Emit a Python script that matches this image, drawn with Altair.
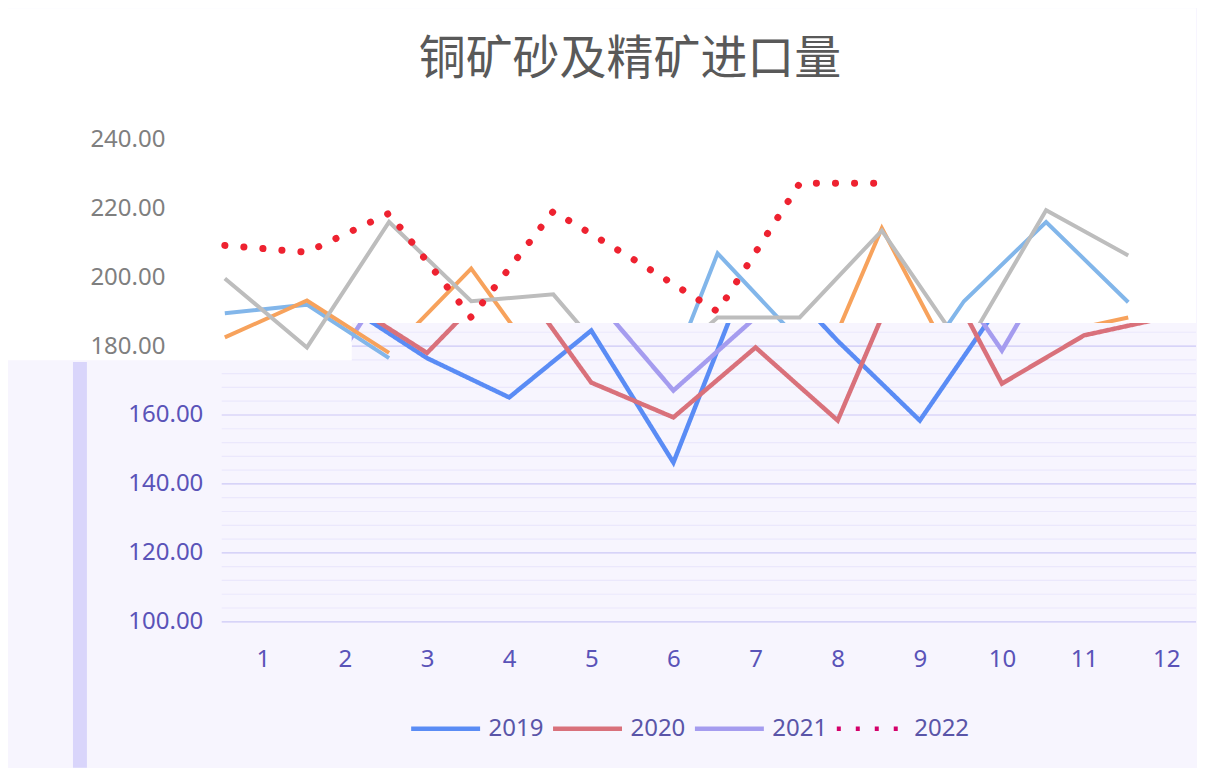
import altair as alt
import pandas as pd

# ---------------- data ----------------
MONTHS = [1, 2, 3, 4, 5, 6, 7, 8, 9, 10, 11, 12]
YEARS = ["2019", "2020", "2021", "2022"]
S2019 = [189.5, 192.0, 176.5, 165.1, 184.5, 146.2, 206.9, 181.5, 158.4, 193.0, 216.0, 192.7]
S2020 = [182.5, 193.2, 178.0, 202.5, 169.4, 159.3, 179.6, 158.4, 214.2, 169.1, 183.1, 188.3]
S2021 = [199.6, 179.6, 216.0, 193.0, 195.0, 167.1, 188.3, 188.3, 213.5, 178.7, 219.4, 206.3]
S2022 = [209.2, 207.2, 218.5, 188.3, 219.1, 204.8, 190.0, 227.2, 227.2, None, None, None]
TITLE = "铜矿砂及精矿进口量"
Y_TICKS_UPPER = [200, 220, 240]
Y_TICKS_LOWER = [100, 120, 140, 160]
Y_TICK_SPLIT = [180]
GRID_MAJOR = [100, 120, 140, 160, 180]
GRID_MINOR = [104, 108, 112, 116, 124, 128, 132, 136, 144, 148, 152, 156,
              164, 168, 172, 176, 184]

# ---------------- styles ----------------
DARK = ["#5a8cf5", "#d9717b", "#a59cef", "#d4006a"]
LIGHT = ["#82b6ea", "#f7a25c", "#bdbdbd", "#ee2230"]
LAVENDER = "#f7f5fe"
STRIP = "#d9d5fb"
GRID_MAJOR_C = "#cdc8f6"
GRID_MINOR_C = "#ebe8fc"
PURPLE = "#5a53b8"
LEGEND_C = "#5a55a8"
GRAY = "#7f7f7f"
FONT = "Noto Sans"

# ---------------- layout ----------------
W = 1189
H_TOP = 315
H_BOT = 445
X_DOM = [-2.102, 12.363]
Y_SPLIT = 186.67
Y_TOP_DOM = [Y_SPLIT, 277.97]
Y_BOT_DOM = [57.68, Y_SPLIT]
SHIFT = -0.462
ZONE_X = 2.083
ZONE_Y = 175.9
STRIP_X = [-1.311, -1.141]
STRIP_TOP = 175.4
PLOT_X0 = 0.5

rows = []
for yr, vals in zip(YEARS, [S2019, S2020, S2021, S2022]):
    for m, v in zip(MONTHS, vals):
        if v is not None:
            rows.append({"year": yr, "month": m, "value": v})
df = pd.DataFrame(rows)
grid_df = pd.DataFrame({"v": GRID_MAJOR + GRID_MINOR,
                        "kind": ["major"] * len(GRID_MAJOR) + ["minor"] * len(GRID_MINOR)})
one = pd.DataFrame({"k": [0]})

xs = alt.Scale(domain=X_DOM, nice=False, zero=False)
ys_top = alt.Scale(domain=Y_TOP_DOM, nice=False, zero=False)
ys_bot = alt.Scale(domain=Y_BOT_DOM, nice=False, zero=False)
stroke_sc = alt.Scale(domain=YEARS, range=LIGHT)
color_sc = alt.Scale(domain=YEARS, range=DARK)
dash_sc = alt.Scale(domain=YEARS, range=[[1, 0], [1, 0], [1, 0], [4, 15]])

# ---------------- top panel ----------------
axis_top = alt.Axis(values=Y_TICKS_UPPER, format=".2f", orient="left", offset=-162,
                    labelPadding=5, tickSize=0, ticks=False, domain=False, grid=False,
                    labelColor=GRAY, labelFont=FONT, labelFontSize=24, title=None, zindex=1)

light = alt.Chart(df).transform_calculate(mx=f"datum.month + ({SHIFT})")

top_solid = light.transform_filter("datum.year != '2022'").mark_line(
    strokeWidth=4, clip=True).encode(
    x=alt.X("mx:Q", scale=xs, axis=None),
    y=alt.Y("value:Q", scale=ys_top, axis=axis_top),
    stroke=alt.Stroke("year:N", scale=stroke_sc, legend=None))
top_dot = light.transform_filter("datum.year == '2022'").mark_line(
    strokeWidth=7, strokeDash=[0.1, 19], strokeCap="round", clip=True).encode(
    x=alt.X("mx:Q", scale=xs, axis=None),
    y=alt.Y("value:Q", scale=ys_top, axis=None),
    stroke=alt.Stroke("year:N", scale=stroke_sc, legend=None))

top = alt.layer(top_solid, top_dot).resolve_axis(x="independent", y="independent").properties(
    width=W, height=H_TOP,
    title=alt.TitleParams(TITLE, font="Noto Sans CJK SC", fontSize=47, fontWeight="normal",
                          color="#595959", anchor="middle", offset=-76, dx=28),
    view=alt.ViewBackground(fill="white", stroke=None))

# ---------------- bottom panel ----------------
axis_x = alt.Axis(values=MONTHS, format="d", orient="bottom", offset=-146, labelPadding=38,
                  labelBaseline="middle", tickSize=0, ticks=False, domain=False, grid=False,
                  labelColor=PURPLE, labelFont=FONT, labelFontSize=24, title=None,
                  zindex=1, labelFlush=False, labelOverlap=False)
axis_bot = alt.Axis(values=Y_TICKS_LOWER, format=".2f", orient="left", offset=-214,
                    labelPadding=19, tickSize=0, ticks=False, domain=False, grid=False,
                    labelColor=PURPLE, labelFont=FONT, labelFontSize=24, title=None, zindex=1)
axis_180 = alt.Axis(values=Y_TICK_SPLIT, format=".2f", orient="left", offset=-214,
                    labelPadding=57, tickSize=0, ticks=False, domain=False, grid=False,
                    labelColor=GRAY, labelFont=FONT, labelFontSize=24, title=None, zindex=1)

leg = alt.Legend(orient="none", legendX=401, legendY=369, direction="horizontal", title=None,
                 symbolType="stroke", symbolSize=4761, symbolStrokeWidth=4.5,
                 labelFont=FONT, labelFontSize=24, labelColor=LEGEND_C,
                 labelOffset=6, columnPadding=0, padding=0, zindex=2)

strip = alt.Chart(one).mark_rect(color=STRIP).encode(
    x=alt.XDatum(STRIP_X[0], scale=xs, axis=None), x2=alt.X2Datum(STRIP_X[1]),
    y=alt.YDatum(Y_BOT_DOM[0], scale=ys_bot, axis=None), y2=alt.Y2Datum(STRIP_TOP))

grid = alt.Chart(grid_df).transform_calculate(
    x0=f"datum.v > {ZONE_Y} ? {ZONE_X} : {PLOT_X0}").mark_rule(strokeWidth=1.2).encode(
    x=alt.X("x0:Q", scale=xs, axis=None), x2=alt.X2Datum(X_DOM[1]),
    y=alt.Y("v:Q", scale=ys_bot, axis=None),
    color=alt.condition("datum.kind == 'major'", alt.value(GRID_MAJOR_C), alt.value(GRID_MINOR_C)))

dark = alt.Chart(df).mark_line(strokeWidth=4.5, clip=True).encode(
    x=alt.X("month:Q", scale=xs, axis=axis_x),
    y=alt.Y("value:Q", scale=ys_bot, axis=axis_bot),
    color=alt.Color("year:N", scale=color_sc, legend=leg),
    strokeDash=alt.StrokeDash("year:N", scale=dash_sc, legend=leg))

zone = alt.Chart(one).mark_rect(color="white").encode(
    x=alt.XDatum(X_DOM[0], scale=xs, axis=None), x2=alt.X2Datum(ZONE_X),
    y=alt.YDatum(ZONE_Y, scale=ys_bot, axis=axis_180), y2=alt.Y2Datum(Y_SPLIT))

zone_light = light.transform_filter("datum.year != '2022' && datum.month <= 3").mark_line(
    strokeWidth=4, clip=True).encode(
    x=alt.X("mx:Q", scale=xs, axis=None),
    y=alt.Y("value:Q", scale=ys_bot, axis=None),
    stroke=alt.Stroke("year:N", scale=stroke_sc, legend=None))

bottom = alt.layer(strip, grid, dark, zone, zone_light).resolve_axis(
    x="independent", y="independent").properties(
    width=W, height=H_BOT, view=alt.ViewBackground(fill=LAVENDER, stroke=None))

chart = alt.vconcat(top, bottom, spacing=0, bounds="flush").resolve_legend(
    color="independent", strokeDash="independent", stroke="independent").resolve_scale(
    color="independent", strokeDash="independent").properties(
    padding=0, background=LAVENDER).configure_view(stroke=None)

chart.save("out.html", embed_options={"renderer": "svg", "actions": False})
